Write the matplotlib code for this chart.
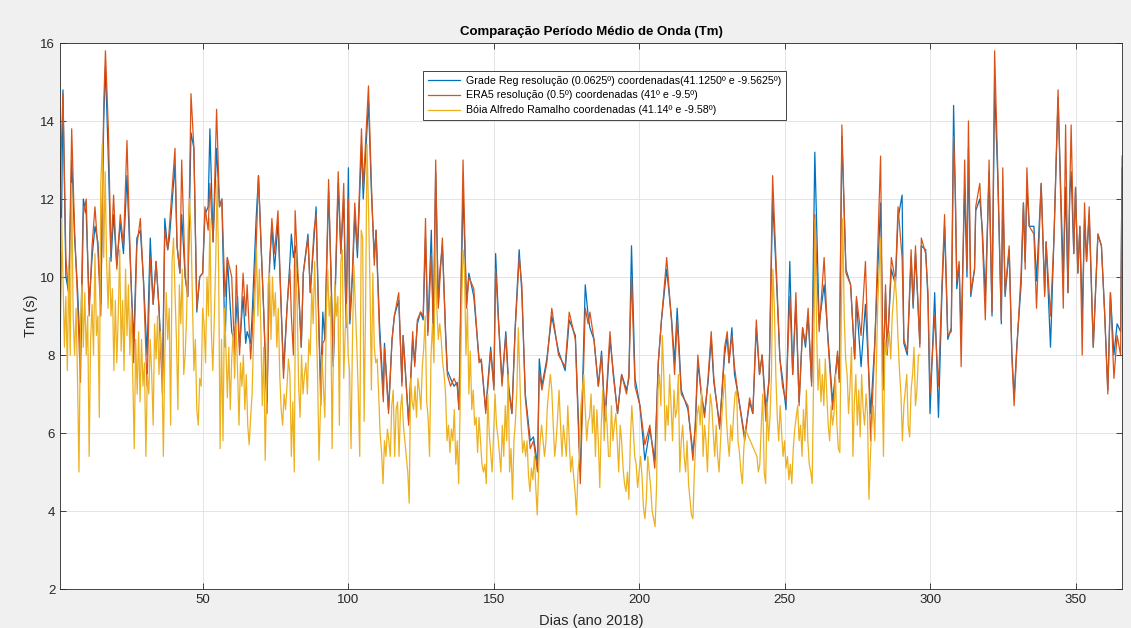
import numpy as np
import matplotlib
matplotlib.use('Agg')
import matplotlib.pyplot as plt

# ---------------------------------------------------------------------------------------
# Tm (s) ao longo de 2018: grelha regional, ERA5 e bóia
# ---------------------------------------------------------------------------------------

dias_mod = [1, 2, 3, 4, 5, 6, 7, 8, 9, 10, 11, 12, 13, 14, 15, 16, 16.6, 17.6, 18.5, 19.4,
            20.5, 21.7, 22.8, 24.0, 24.8, 26.3, 27.4, 28.6, 29.7, 30.9,
            32, 33, 34, 35, 36.2, 37, 38, 38.6, 40.5, 41.2, 42.2, 42.8, 44, 44.9, 46, 47, 48, 49,
            50, 50.8, 51.9, 52.5, 53.6, 54.8, 55.8, 56.6, 57.7, 58.5, 60, 61,
            61.6, 62, 62.7, 63.9, 64.8, 65.3, 66.5, 67, 68.4, 69.2, 70, 71, 72.1, 73, 73.8, 74.7,
            75.9, 77, 77.8, 79, 80, 80.5, 81.2, 81.8, 83, 83.9, 84.6, 86.2, 87, 88.3, 89, 90,
            90.6, 91.3,
            92, 93.3, 94.1, 94.9, 96.6, 97.5, 98.5, 99.3, 100.1, 100.6, 101.5, 102.3, 103.2,
            104.6, 105.2, 107, 108, 109, 109.6, 110.8, 112.1, 112.5, 113.9, 115.1, 115.9, 117.4,
            118.5, 118.9, 120.8, 122.2,
            122.9, 123.8, 124.9, 125.8, 126.6, 127.4, 128.6, 129.3, 130.1, 131, 131.6, 132.4,
            133.5, 134.1, 135.2, 136.4, 137.5, 138.1, 139.5, 140.7, 141.5, 143.2, 145, 145.8,
            147.3, 149, 150.1, 150.7,
            151.7, 152.9, 154.2, 155.2, 156.3, 157.4, 158.8, 159.7, 160.9, 162.6, 163.7, 165.1,
            165.7, 166.6, 168.3, 170, 172.3, 174.6, 176, 178.1, 179.8, 181.5, 182.5,
            183.1, 184.5, 186, 187.1, 188.3, 190, 191.1, 192.6, 194, 195.7, 196.5, 197.4, 198.6,
            200.3, 202, 203.7, 205.4, 206.6, 207.7, 209.5, 211.2, 212.2,
            213.1, 214.5, 216.8, 218.5, 219.3, 220.2, 221.4, 222.5, 223.7, 224.8, 225.7, 227.7,
            229.4, 230.3, 230.9, 231.9, 232.8, 234, 236.3, 238, 239.1, 240.3, 241.4, 242.3,
            243.6, 244.7, 245.9, 247, 248.4, 249.3, 250.5, 251.8, 252.8, 253.9, 255, 256.2,
            257.2, 258.1, 259.3, 260.4, 261.9, 263.6, 264.8, 266.5, 268.2, 268.8, 269.7, 271.1,
            272.7,
            274.1, 274.7, 276.3, 277.8, 279.6, 281, 283, 283.9, 284.7, 285.3, 286.7, 288.1, 289,
            290.4, 291, 292.2, 293.5, 294.2, 295, 296.5, 297, 298.5, 299.3, 300, 301.6, 302.9,
            304.1, 305, 306.1, 307.3, 308.1, 308.7, 309.2, 310, 310.7, 311.9, 312.7, 313.2, 314,
            315.3, 315.7, 317.1, 318, 319, 320.3, 321.3, 322.2, 323.3, 324.5, 325, 325.8, 327.2,
            328.1, 328.9, 329.8, 331.3, 332.1, 332.7, 333.3, 334.1,
            335.7, 336.6, 338.2, 339.4, 339.9, 341.4, 342.6, 344, 345.8, 346.6, 347.4, 348,
            348.5, 349.4, 350, 350.8, 351.5, 352.3, 353.1, 353.8, 354.7, 356.1, 357.7, 358.9,
            360, 361.1, 362, 363.2, 364.3, 365.5, 366]

grade = [8.0, 14.8, 10.0, 9.6, 13.0, 11.0, 9.7, 8.0, 12.0, 11.6, 9.3, 10.5, 11.3, 10.9, 9.3,
         14.0, 15.4, 13.0, 10.4, 11.6, 10.3, 11.4, 10.6, 12.6, 11.0, 8.3, 11.0, 11.2, 9.9, 8.0,
         11.0, 9.3, 10.4, 9.2, 7.4, 11.5, 10.7, 11.0, 12.9, 10.8, 10.1, 11.6, 10.0, 9.5, 13.7,
         13.3, 9.1, 10.0, 10.1, 11.6, 11.8, 13.8, 10.9, 13.3, 11.8, 12.0, 8.2, 10.5, 8.6, 8.3,
         9.1, 9.5, 8.2, 9.5, 8.3, 8.6, 8.3, 9.0, 11.5, 12.6, 11.0, 9.1, 6.8, 10.3, 11.3, 10.2,
         11.4, 9.2, 7.6, 9.2, 10.4, 11.1, 10.5, 10.8, 9.7, 8.2, 10.1, 11.1, 9.6, 11.0, 11.8,
         8.6, 7.2, 9.1,
         8.4, 12.2, 10.2, 7.7, 12.4, 10.6, 12.0, 8.7, 12.8, 8.8, 10.0, 11.6, 10.5, 13.4, 12.0,
         14.5, 12.2, 10.5, 11.2, 8.8, 7.0, 8.3, 6.6, 8.4, 9.0, 9.4, 7.3, 8.5, 6.3, 8.4,
         7.8, 8.8, 9.1, 8.9, 11.0, 8.6, 11.2, 8.5, 12.7, 9.3, 10.2, 10.8, 8.6, 7.6, 7.4, 7.2,
         7.3, 6.6, 12.2, 9.3, 10.1, 9.5, 7.9, 7.8, 6.6, 8.2, 7.2, 10.6,
         8.9, 7.3, 8.6, 7.2, 6.5, 8.7, 10.7, 9.6, 7.0, 5.8, 5.9, 5.2, 7.9, 7.2, 7.9, 9.0, 8.1,
         7.6, 8.9, 8.5, 5.0, 9.8, 9.0,
         8.7, 8.4, 7.2, 8.1, 6.3, 8.4, 7.6, 6.5, 7.5, 7.1, 7.4, 10.8, 7.4, 6.7, 5.3, 6.1, 5.3,
         7.8, 8.9, 10.2, 8.9, 7.8,
         9.2, 7.1, 6.6, 5.5, 6.1, 7.8, 7.0, 6.5, 7.3, 8.4, 7.3, 6.2, 8.0, 8.5, 7.8, 8.7, 7.5,
         7.0, 5.9, 6.8, 6.5, 8.7, 7.5, 8.0,
         6.6, 7.4, 12.0, 10.3, 7.9, 7.4, 6.6, 10.4, 7.5, 9.3, 6.8, 8.7, 8.2, 9.0, 7.3, 13.2,
         8.8, 9.8, 8.6, 6.8, 8.0, 7.4, 13.6, 10.2, 9.8,
         7.9, 9.4, 7.7, 9.3, 6.5, 8.3, 11.9, 7.5, 9.6, 8.1, 10.2, 9.8, 11.5, 12.1, 8.3, 8.0,
         10.5, 9.2, 10.6, 8.3, 10.8, 10.7, 9.4, 6.5, 9.6, 6.4,
         9.6, 11.3, 8.4, 8.7, 14.4, 12.0, 9.7, 10.3, 8.5, 12.3, 10.0, 13.3, 9.5, 10.2, 11.7,
         12.0, 11.2, 9.5, 12.7, 9.0, 14.9, 12.5, 8.8, 12.2, 9.5, 10.7, 8.1, 6.9, 8.2, 9.8,
         11.9, 10.4, 12.3, 11.3,
         11.3, 9.9, 12.4, 9.6, 10.9, 8.2, 11.0, 14.6, 10.0, 12.3, 9.6, 12.1, 12.7, 10.6, 12.3,
         10.1, 11.3, 9.0, 11.5, 10.4, 11.6, 8.2, 11.1, 10.8, 9.1, 7.1, 9.6, 8.0, 8.8, 8.6, 12.8]

era5 = [12.3, 14.7, 10.5, 9.5, 13.8, 11.2, 9.4, 7.3, 11.6, 12.0, 9.0, 10.8, 11.8, 10.7, 9.0,
        14.4, 15.8, 13.8, 10.6, 12.1, 10.2, 11.6, 10.8, 13.5, 11.3, 7.8, 10.8, 11.5, 9.8, 7.2,
        10.5, 9.3, 10.4, 9.2, 7.0, 11.2, 10.7, 11.3, 13.3, 10.8, 10.1, 13.0, 10.0, 9.5, 14.7,
        13.3, 9.2, 10.0, 10.1, 11.8, 11.2, 12.4, 10.9, 14.3, 11.8, 12.0, 9.5, 10.5, 10.0, 8.0,
        10.3, 9.2, 8.0, 10.1, 9.0, 9.8, 7.9, 8.5, 10.8, 12.6, 11.0, 9.1, 6.5, 10.3, 11.5, 10.6,
        11.7, 9.2, 7.4, 9.2, 10.2, 9.0, 8.0, 11.7, 9.7, 8.2, 10.1, 11.0, 9.6, 11.2, 11.6, 8.6,
        6.7, 8.3,
        8.4, 12.5, 10.0, 7.8, 12.7, 10.6, 12.4, 8.8, 12.0, 8.9, 10.2, 11.9, 10.7, 13.8, 12.3,
        14.9, 12.4, 10.3, 11.2, 8.5, 6.8, 8.2, 6.5, 8.4, 9.0, 9.6, 7.2, 8.5, 6.2, 8.6,
        7.7, 8.9, 9.1, 9.0, 11.5, 8.5, 10.6, 8.5, 13.0, 9.2, 10.0, 11.0, 8.5, 7.5, 7.2, 7.4,
        7.2, 6.6, 13.0, 9.2, 10.0, 9.7, 7.8, 7.9, 6.5, 8.1, 7.1, 10.2,
        8.8, 7.2, 8.5, 7.1, 6.5, 8.6, 10.5, 9.8, 6.9, 5.6, 5.8, 5.0, 7.6, 7.1, 7.8, 9.2, 8.0,
        7.7, 9.1, 8.4, 4.7, 9.2, 8.8,
        9.1, 8.4, 7.2, 8.0, 6.4, 8.6, 7.5, 6.5, 7.5, 7.0, 7.5, 10.0, 7.2, 6.7, 5.7, 6.2, 5.1,
        7.8, 8.9, 10.5, 8.8, 7.5,
        8.9, 7.0, 6.7, 5.3, 6.2, 8.0, 7.0, 6.4, 7.4, 8.6, 7.4, 6.1, 8.2, 8.6, 7.8, 8.5, 7.7,
        7.0, 5.8, 6.9, 6.5, 8.9, 7.5, 8.0,
        6.3, 7.4, 12.6, 10.5, 7.9, 7.2, 6.8, 9.5, 7.5, 9.6, 6.7, 8.7, 8.3, 9.2, 7.2, 11.6,
        8.6, 10.5, 8.5, 6.6, 8.1, 7.3, 13.9, 10.1, 9.8,
        7.9, 9.5, 8.5, 10.4, 5.8, 8.2, 13.1, 7.1, 9.8, 8.0, 10.5, 9.9, 11.8, 10.5, 8.4, 8.1,
        10.7, 9.3, 10.8, 8.2, 11.0, 10.6, 9.6, 7.0, 9.0, 7.2,
        9.8, 11.6, 8.5, 8.6, 13.6, 12.2, 9.9, 10.4, 7.7, 13.0, 10.2, 14.0, 9.6, 10.2, 11.8,
        12.4, 11.0, 8.9, 13.0, 9.1, 15.8, 12.7, 8.9, 12.8, 9.6, 10.8, 8.0, 6.7, 8.1, 10.1,
        11.9, 10.2, 12.8, 11.3,
        11.1, 9.2, 12.4, 9.5, 10.9, 9.0, 11.0, 14.8, 9.2, 13.9, 9.6, 12.1, 13.9, 10.6, 12.3,
        10.1, 11.3, 8.0, 11.9, 10.4, 11.8, 8.2, 11.1, 10.8, 9.1, 7.0, 9.6, 7.4, 8.5, 8.0, 13.1]

# bóia: de 12 em 12 horas, sem registos entre os dias 237 e 240
dias_boia = np.concatenate((np.arange(1, 237, 0.5), np.arange(240.5, 297, 0.5)))

boia = [9.0, 11.5, 10.0, 8.2, 9.5, 7.6, 10.2, 8.0, 12.4, 9.0, 8.0, 9.2, 7.4, 5.0, 8.6, 9.8,
        8.2, 9.6, 8.0, 9.0, 5.4, 8.4, 9.3, 8.0, 10.6, 8.5, 9.0, 6.4, 12.4, 13.4, 10.5, 12.7,
        10.4, 9.2, 10.5, 9.0, 9.7, 7.6, 9.4, 7.8, 9.0, 10.7, 8.1, 9.4, 7.6, 10.2, 8.5, 9.8,
        8.0, 9.2, 7.4, 5.6, 8.4, 7.0, 8.6, 6.8, 8.4, 7.2, 7.8, 5.4, 7.5, 7.0,
        8.4, 7.5, 6.2, 8.8, 7.9, 9.0, 7.5, 8.6, 7.8, 5.4, 8.0, 9.6, 8.4, 9.2, 6.2, 10.4,
        11.0, 9.6, 8.4, 6.6, 9.8, 8.8, 10.2, 7.5, 8.0, 9.0, 11.2, 12.0, 11.2, 9.4, 7.6, 8.4,
        6.6, 6.2, 7.4, 7.2, 9.2, 8.8, 7.8, 10.0, 9.0, 11.5, 8.6, 7.6, 8.9, 10.4, 12.5, 10.2,
        5.6, 8.4, 5.8, 9.2, 8.2, 6.9, 8.2, 6.6, 7.9, 8.6, 7.4, 8.8,
        7.6, 6.2, 7.8, 7.2, 8.0, 6.6, 7.5, 6.2, 5.7, 6.4, 7.0, 8.4, 9.5, 10.7, 9.0, 10.2,
        8.7, 6.7, 8.2, 5.3, 7.2, 9.8, 10.1, 8.4, 10.0, 9.0, 9.6, 8.2, 9.2, 7.5, 6.6, 6.2,
        7.0, 6.6, 7.2, 7.9, 7.5, 5.4, 6.8, 5.0, 10.6, 9.2, 7.2, 6.4, 8.0, 7.0, 7.5, 7.8,
        7.0, 8.4, 8.0, 9.7, 8.8, 10.4, 9.0, 7.5, 5.3, 6.7, 8.0, 7.2,
        6.4, 9.0, 10.2, 9.0, 9.5, 5.6, 8.4, 9.8, 9.0, 9.5, 6.2, 10.4, 10.7, 7.4, 8.6, 9.3,
        8.0, 7.6, 5.6, 8.4, 10.3, 9.2, 8.2, 7.0, 5.4, 11.2, 11.0, 6.3, 9.2, 13.4, 11.8, 9.9,
        7.1, 10.1, 8.2, 7.8, 7.9, 7.0, 6.0, 5.5, 4.7, 5.8, 5.4, 6.1, 5.8, 5.4, 6.7, 7.1,
        5.4, 6.6, 6.8, 5.4, 6.6, 7.0, 6.2, 5.8, 5.4, 5.0, 4.2, 7.4,
        6.8, 6.6, 7.2, 6.4, 7.4, 7.1, 6.6, 7.7, 8.2, 9.0, 6.8, 6.4, 5.4, 8.0, 8.8, 7.8,
        10.8, 9.2, 8.4, 8.8, 8.4, 7.8, 7.5, 7.0, 5.8, 6.2, 5.5, 6.1, 5.8, 6.6, 5.2, 5.8,
        4.7, 6.7, 9.2, 10.7, 10.2, 8.0, 9.2, 7.0, 8.1, 6.6, 7.1, 6.2, 6.4, 5.5, 6.4, 5.8,
        5.2, 5.0, 5.2, 4.7, 7.0, 6.0, 5.5, 5.0, 6.0, 7.0, 6.2, 5.9,
        5.5, 5.0, 6.2, 5.4, 6.7, 5.8, 7.5, 5.0, 5.6, 4.3, 5.8, 6.3, 7.1, 8.7, 7.5, 6.2,
        5.5, 5.8, 5.4, 5.8, 4.9, 4.5, 5.1, 4.8, 5.4, 4.6, 3.9, 5.1, 5.8, 6.2, 5.8, 5.4,
        5.8, 6.7, 7.1, 7.5, 7.1, 6.2, 5.4, 5.8, 6.4, 7.1, 6.2, 5.4, 6.2, 5.8, 5.4, 6.7,
        5.8, 5.0, 5.4, 4.9, 4.5, 3.9, 5.0, 5.4, 6.7, 7.1, 7.5, 6.6, 5.8, 6.3,
        6.4, 7.0, 6.0, 6.7, 5.4, 6.6, 5.8, 4.6, 6.2, 7.1, 5.8, 6.7, 6.2, 5.4, 5.4, 6.7,
        5.8, 6.2, 6.5, 5.8, 5.0, 6.2, 5.8, 5.1, 4.7, 4.5, 5.0, 4.3, 5.8, 6.7, 6.1, 5.4,
        5.2, 4.6, 5.0, 5.4, 4.9, 4.1, 3.8, 4.3, 5.4, 5.0, 4.6, 4.0, 3.8, 3.6, 4.6, 7.1,
        7.5, 6.7, 8.5, 7.5, 5.8, 6.7, 6.2, 7.5, 6.7, 5.8, 7.1, 6.4,
        6.6, 7.5, 5.0, 5.8, 6.2, 5.4, 5.0, 5.8, 4.7, 4.3, 3.9, 3.8, 5.0, 5.8, 6.5, 6.7,
        6.2, 7.1, 5.4, 6.2, 5.8, 5.0, 6.2, 7.0, 6.7, 6.0, 5.4, 6.2, 5.4, 5.0, 5.8, 6.5,
        7.0, 7.5, 6.4, 5.8, 5.4, 6.2, 5.8, 6.5, 7.0, 7.1, 5.8, 5.5, 5.0, 4.7, 5.6, 6.1,
        5.4, 5.0, 5.2, 6.2, 7.0,
        5.0, 4.7, 6.8, 5.8, 6.4, 7.5, 10.2, 9.2, 7.5, 6.4, 5.8, 6.7, 6.0, 5.4, 5.8, 5.1,
        5.4, 4.8, 5.2, 4.7, 5.6, 6.1, 6.4, 6.7, 5.8, 6.2, 5.4, 6.6, 5.8, 7.1, 5.8, 5.2,
        5.0, 4.7, 7.5, 11.5, 8.7, 7.1, 7.9, 6.8, 7.5, 6.7, 7.9, 7.0, 6.2, 5.8, 6.7, 6.2,
        6.5, 7.5, 6.2, 5.6, 5.5, 9.0, 11.5, 9.0, 7.9, 7.5, 6.5, 7.2, 8.2,
        5.4, 6.8, 7.5, 6.2, 7.1, 5.9, 7.5, 6.6, 6.2, 7.0, 6.5, 4.3, 5.4, 6.2, 6.7, 5.8,
        7.5, 9.2, 10.2, 11.0, 7.5, 5.4, 8.4, 8.0, 8.4, 8.6, 7.9, 9.0, 9.5, 10.0, 9.4, 8.4,
        7.6, 7.0, 5.8, 6.7, 7.1, 7.5, 6.2, 5.9, 7.1, 7.5, 8.2, 6.7, 7.1, 8.0, 8.0]

legendas = ['Grade Reg resolução (0.0625º) coordenadas(41.1250º e -9.5625º)',
            'ERA5 resolução (0.5º) coordenadas (41º e -9.5º)',
            'Bóia Alfredo Ramalho coordenadas (41.14º e -9.58º)']

# cores por omissão do MATLAB
cor_grade = '#0072BD'
cor_era5 = '#D95319'
cor_boia = '#EDB120'
cor_eixos = '#262626'

plt.rcParams['font.family'] = ['Liberation Sans', 'DejaVu Sans']

fig = plt.figure(figsize=(11.31, 6.28), dpi=100, facecolor='#f0f0f0')
ax = fig.add_axes([0.0531, 0.0621, 0.9390, 0.8694])
ax.set_facecolor('white')

ax.plot(dias_mod, grade, color=cor_grade, lw=0.9, label=legendas[0])
ax.plot(dias_mod, era5, color=cor_era5, lw=0.9, label=legendas[1])
ax.plot(dias_boia, boia, color=cor_boia, lw=0.9, label=legendas[2])

ax.set_xlim(1, 366)
ax.set_ylim(2, 16)
ax.set_xticks(np.arange(50, 351, 50))
ax.set_yticks(np.arange(2, 17, 2))
ax.grid(True, color='#dfdfdf', lw=0.6)
ax.set_axisbelow(True)
ax.tick_params(direction='in', length=4, width=0.6, labelsize=9.5, colors=cor_eixos,
               top=True, right=True, labeltop=False, labelright=False)
for s in ax.spines.values():
    s.set_color(cor_eixos)
    s.set_linewidth(0.6)

ax.set_title('Comparação Período Médio de Onda (Tm)', fontsize=9.5, fontweight='bold',
             color='black', pad=6)
ax.set_xlabel('Dias (ano 2018)', fontsize=10.5, color=cor_eixos, labelpad=6)
ax.set_ylabel('Tm (s)', fontsize=10.5, color=cor_eixos, labelpad=2)

leg = ax.legend(loc='upper left', bbox_to_anchor=(0.342, 0.949), fontsize=7.7,
                fancybox=False, framealpha=1, edgecolor=cor_eixos, handlelength=3.0,
                handletextpad=0.5, borderpad=0.45, labelspacing=0.45, borderaxespad=0)
leg.get_frame().set_linewidth(0.6)

fig.savefig('out.png', dpi=100, facecolor=fig.get_facecolor())
